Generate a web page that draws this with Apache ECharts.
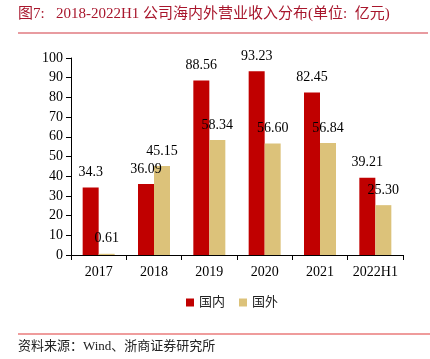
<!DOCTYPE html>
<html><head><meta charset="utf-8">
<script src="https://cdn.jsdelivr.net/npm/echarts@6/dist/echarts.min.js"></script>
<style>html,body{margin:0;padding:0;background:#fff}#c{width:430px;height:359px}</style>
</head><body><div id="c"></div>
<script>
const categories = ['2017','2018','2019','2020','2021','2022H1'];
const domestic = [34.3, 36.09, 88.56, 93.23, 82.45, 39.21];
const overseas = [0.61, 45.15, 58.34, 56.60, 56.84, 25.30];
const domesticLabels = ['34.3','36.09','88.56','93.23','82.45','39.21'];
const overseasLabels = ['0.61','45.15','58.34','56.60','56.84','25.30'];
const yTicks = [0,10,20,30,40,50,60,70,80,90,100];
const font = '"Liberation Serif","Noto Sans CJK SC",serif';
const chart = echarts.init(document.getElementById('c'));
chart.setOption({
  animation:false,
  textStyle:{fontFamily:font},
  graphic:[
    {type:'text',left:18,top:7,style:{text:'图7:   2018-2022H1 公司海内外营业收入分布(单位:  亿元)',fill:'#a8162c',font:'15px '+font}},
    {type:'line',shape:{x1:18,y1:33,x2:428,y2:33},style:{stroke:'#e07a80',lineWidth:1.5}},
    {type:'line',shape:{x1:18,y1:334,x2:430,y2:334},style:{stroke:'#e03a3a',lineWidth:1.2}},
    {type:'text',left:18,top:340,style:{text:'资料来源：Wind、浙商证券研究所',fill:'#222',font:'13px '+font}}
  ],
  legend:{bottom:45,left:181,itemWidth:8,itemHeight:8,itemGap:14,icon:'rect',
    textStyle:{fontSize:13,fontFamily:font,color:'#222'},data:['国内','国外']},
  grid:{left:71,right:27,top:58,bottom:104},
  xAxis:{type:'category',data:categories,
    axisLine:{lineStyle:{color:'#000'}},
    axisTick:{show:true,alignWithLabel:false,length:5,lineStyle:{color:'#000'}},
    axisLabel:{color:'#000',fontSize:14,fontFamily:font,margin:10,interval:0}},
  yAxis:{type:'value',min:0,max:100,interval:10,
    axisLine:{show:true,lineStyle:{color:'#000'}},
    axisTick:{show:true,length:5,lineStyle:{color:'#000'}},
    splitLine:{show:false},
    axisLabel:{color:'#000',fontSize:14,fontFamily:font,margin:8,
      formatter:v=>yTicks.includes(v)?String(v):''}},
  series:[
    {name:'国内',type:'bar',data:domestic,barWidth:16,barGap:'0%',
      itemStyle:{color:'#c00000'},
      label:{show:true,position:'top',distance:8,color:'#000',fontSize:14,fontFamily:font,
        formatter:p=>domesticLabels[p.dataIndex]}},
    {name:'国外',type:'bar',data:overseas,barWidth:16,barGap:'0%',
      itemStyle:{color:'#dcc27a'},
      label:{show:true,position:'top',distance:8,color:'#000',fontSize:14,fontFamily:font,
        formatter:p=>overseasLabels[p.dataIndex]}}
  ]
});
</script></body></html>
